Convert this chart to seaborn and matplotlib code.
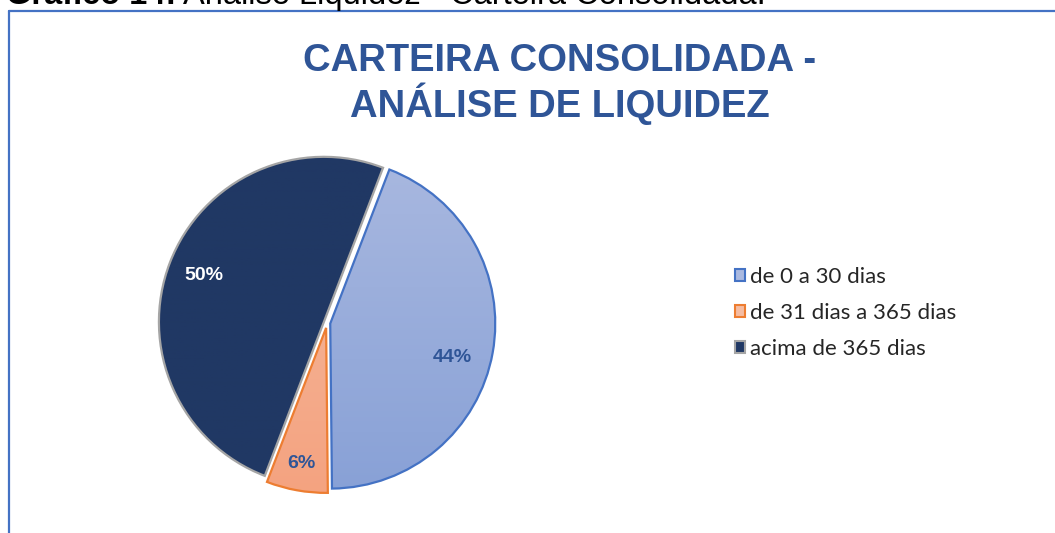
import numpy as np
import matplotlib
matplotlib.use("Agg")
import matplotlib.pyplot as plt
from matplotlib.patches import Patch
from matplotlib.lines import Line2D
import seaborn as sns

sns.set_theme(style="white")
plt.rcParams['font.family'] = ['Liberation Sans', 'DejaVu Sans']

# data
categories = ["de 0 a 30 dias", "de 31 dias a 365 dias", "acima de 365 dias"]
shares = [44, 6, 50]
title = "CARTEIRA CONSOLIDADA -\nANÁLISE DE LIQUIDEZ"
caption_bold = "Gráfico 14:"
caption_rest = "Análise Liquidez - Carteira Consolidada."

# colours (gradient top, gradient bottom, edge, label colour)
grad_top = ["#AAB9E0", "#F5BCA2", "#203864"]
grad_bot = ["#87A0D6", "#F4A27F", "#203864"]
edges = ["#4472C4", "#ED7D31", "#A5A5A5"]
label_cols = ["#2F5597", "#2F5597", "white"]
explode = [0.02, 0.03, 0.02]

W, H = 1055, 533
fig = plt.figure(figsize=(W / 100, H / 100), dpi=100)

# frame lines (top and left only visible)
fig.add_artist(Line2D([9 / W, 1.0], [1 - 10.5 / H, 1 - 10.5 / H], transform=fig.transFigure,
                      color="#4472C4", lw=1.6))
fig.add_artist(Line2D([9 / W, 9 / W], [0, 1 - 10.5 / H], transform=fig.transFigure,
                      color="#4472C4", lw=1.6))

# caption, cut by the top edge as in the source
cap1 = fig.text(6 / W, 1 - 4 / H, caption_bold, fontsize=23.5, fontweight="bold",
                va="baseline", ha="left", color="black")
fig.canvas.draw()
bb = cap1.get_window_extent()
fig.text((bb.x1 + 7) / W, 1 - 4 / H, caption_rest, fontsize=23.5,
         va="baseline", ha="left", color="black")

fig.text(560 / W, 1 - 84 / H, title, fontsize=27.5, fontweight="bold", color="#2F5597",
         ha="center", va="center", linespacing=1.1)

# pie axes
cx, cy, r = 327, 323, 165
half = 1.1 * r
ax = fig.add_axes([(cx - half) / W, (H - cy - half) / H, 2 * half / W, 2 * half / H])
wedges, texts, autotexts = ax.pie(shares, startangle=69, counterclock=False, explode=explode,
                                  autopct="%.0f%%", pctdistance=0.78, radius=1.0,
                                  wedgeprops=dict(linewidth=1.6))
ax.axis("off")

for i, w in enumerate(wedges):
    w.set_facecolor("none")
    w.set_edgecolor(edges[i])
    w.set_zorder(3)
    c1 = np.array(matplotlib.colors.to_rgb(grad_top[i]))
    c2 = np.array(matplotlib.colors.to_rgb(grad_bot[i]))
    t = np.linspace(0, 1, 200)[:, None]
    img = (c1[None, :] * (1 - t) + c2[None, :] * t)[:, None, :]
    im = ax.imshow(img, extent=[-1.1, 1.1, -1.1, 1.1], aspect="auto", zorder=2,
                   origin="upper")
    im.set_clip_path(w)
    autotexts[i].set_color(label_cols[i])
    autotexts[i].set_fontweight("bold")
    autotexts[i].set_fontsize(14)
    autotexts[i].set_zorder(5)

# nudge the small-slice labels outward/down like the source
x6, y6 = autotexts[1].get_position()
autotexts[1].set_position((x6 * 1.07, y6 * 1.07))
x44, y44 = autotexts[0].get_position()
autotexts[0].set_position((x44 - 0.03, y44 - 0.07))

ax.set_xlim(-1.1, 1.1)
ax.set_ylim(-1.1, 1.1)
ax.set_aspect("equal")

handles = [Patch(facecolor=grad_top[i], edgecolor=edges[i], linewidth=1.5) for i in range(3)]
fig.legend(handles, categories, loc="upper left", bbox_to_anchor=(735 / W, 1 - 267 / H),
           frameon=False, handlelength=0.47, handleheight=0.47,
           handletextpad=0.2, labelspacing=0.72, borderaxespad=0, borderpad=0,
           prop={"family": "Lato", "size": 16})

fig.savefig("out.png", dpi=100)
